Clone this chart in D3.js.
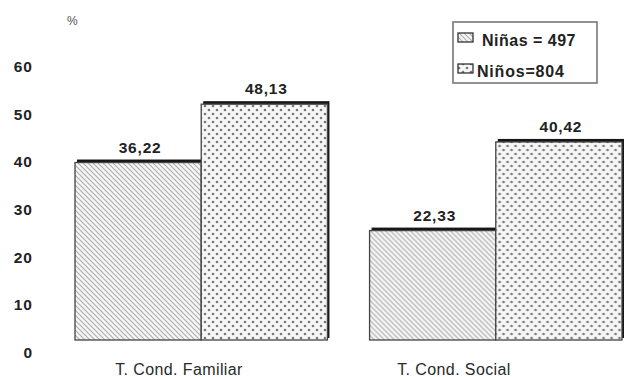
<!DOCTYPE html>
<html>
<head>
<meta charset="utf-8">
<script src="https://cdn.jsdelivr.net/npm/d3@7"></script>
<style>
  html, body { margin: 0; padding: 0; background: #fff; }
  svg { display: block; }
  text { font-family: "Liberation Sans", Arial, Helvetica, sans-serif; fill: #222; }
</style>
</head>
<body>
<svg id="chart" width="624" height="377"></svg>
<script>
// Trastornos de conducta por sexo (%)
const categories = ["T. Cond. Familiar", "T. Cond. Social"];
const seriesNames = ["Niñas", "Niños"];
const seriesTotals = [497, 804];
const ninas = [36.22, 22.33];
const ninos = [48.13, 40.42];
const yTicks = [0, 10, 20, 30, 40, 50, 60];
const legendLabels = ["Niñas = 497", "Niños=804"];

const svg = d3.select("#chart");
const fmt = v => d3.format(".2f")(v).replace(".", ",");

// Fill patterns: diagonal hatch for girls, staggered dots for boys
const defs = svg.append("defs");
const hatch = defs.append("pattern")
  .attr("id", "hatch").attr("patternUnits", "userSpaceOnUse")
  .attr("width", 5).attr("height", 5);
hatch.append("rect").attr("width", 5).attr("height", 5).attr("fill", "#f6f6f6");
hatch.append("path").attr("d", "M-1,-1 L6,6 M-1,4 L1,6 M4,-1 L6,1")
  .attr("stroke", "#b0b0b0").attr("stroke-width", 1.2);

const dots = defs.append("pattern")
  .attr("id", "dots").attr("patternUnits", "userSpaceOnUse")
  .attr("width", 8).attr("height", 8);
dots.append("rect").attr("width", 8).attr("height", 8).attr("fill", "#f6f6f6");
dots.append("circle").attr("cx", 2).attr("cy", 2).attr("r", 1.35).attr("fill", "#7a7a7a");
dots.append("circle").attr("cx", 6).attr("cy", 6).attr("r", 1.35).attr("fill", "#7a7a7a");

const fills = ["url(#hatch)", "url(#dots)"];

// Scales
const y = d3.scaleLinear().domain([0, 60]).range([340, 46]);
const yLabel = d3.scaleLinear().domain([0, 60]).range([352, 66]);
const x0 = d3.scaleBand().domain(categories).range([75, 622]).paddingInner(0.143);
const x1 = d3.scaleBand().domain(seriesNames).range([0, x0.bandwidth()]);
const xLabel = d3.scalePoint().domain(categories).range([179, 454]);

// Y axis labels (no axis line)
const yAxis = d3.axisLeft(yLabel).tickValues(yTicks).tickSize(0).tickPadding(0);
const gy = svg.append("g").attr("transform", "translate(33,0)").call(yAxis);
gy.select(".domain").remove();
gy.selectAll("text")
  .attr("dy", "0.36em")
  .style("font-size", "15.5px").style("font-weight", "bold")
  .style("letter-spacing", "1px")
  .style("font-family", "'Liberation Sans', Arial, sans-serif").style("fill", "#222");

svg.append("text").attr("x", 67).attr("y", 25)
  .style("font-size", "12px").style("fill", "#555").text("%");

// Bars
const rows = categories.map((c, i) => ({
  cat: c,
  vals: [ninas[i], ninos[i]]
}));

const groups = svg.selectAll("g.cat").data(rows).join("g")
  .attr("class", "cat")
  .attr("transform", d => `translate(${x0(d.cat)},0)`);

groups.each(function (d) {
  const g = d3.select(this);
  d.vals.forEach((v, j) => {
    const bx = x1(seriesNames[j]);
    const bw = x1.bandwidth();
    // dark edge drawn behind the bar, shifted up and right
    g.append("rect")
      .attr("x", bx + 2).attr("y", y(v) - 3)
      .attr("width", bw).attr("height", y(0) - y(v) + 1)
      .attr("fill", "#161616");
    g.append("rect")
      .attr("x", bx).attr("y", y(v))
      .attr("width", bw).attr("height", y(0) - y(v))
      .attr("fill", fills[j])
      .attr("stroke", "#444").attr("stroke-width", 1.3);
    g.append("text")
      .attr("x", bx + bw / 2 + 2).attr("y", y(v) - 10)
      .attr("text-anchor", "middle")
      .style("font-size", "15.5px").style("font-weight", "bold")
      .style("letter-spacing", "0.8px")
      .text(fmt(v));
  });
});

// Category labels
svg.selectAll("text.cat").data(categories).join("text")
  .attr("class", "cat")
  .attr("x", d => xLabel(d)).attr("y", 375)
  .attr("text-anchor", "middle")
  .style("font-size", "16px")
  .style("letter-spacing", "0.4px")
  .style("fill", "#2a2a2a")
  .text(d => d);

// Legend
const legend = svg.append("g").attr("transform", "translate(453,22)");
legend.append("rect").attr("x", 0).attr("y", 0).attr("width", 144).attr("height", 61)
  .attr("fill", "#fff").attr("stroke", "#777").attr("stroke-width", 1.6);
legendLabels.forEach((lab, j) => {
  const ly = 10 + j * 31;
  legend.append("rect").attr("x", 5).attr("y", ly + 1).attr("width", 15).attr("height", 9)
    .attr("fill", fills[j]).attr("stroke", "#333").attr("stroke-width", 1.3);
  legend.append("text").attr("x", j === 0 ? 29 : 24).attr("y", ly + 14)
    .style("font-size", "16px").style("font-weight", "bold")
    .style("letter-spacing", j === 0 ? "0.5px" : "0.8px")
    .text(lab);
});
</script>
</body>
</html>
